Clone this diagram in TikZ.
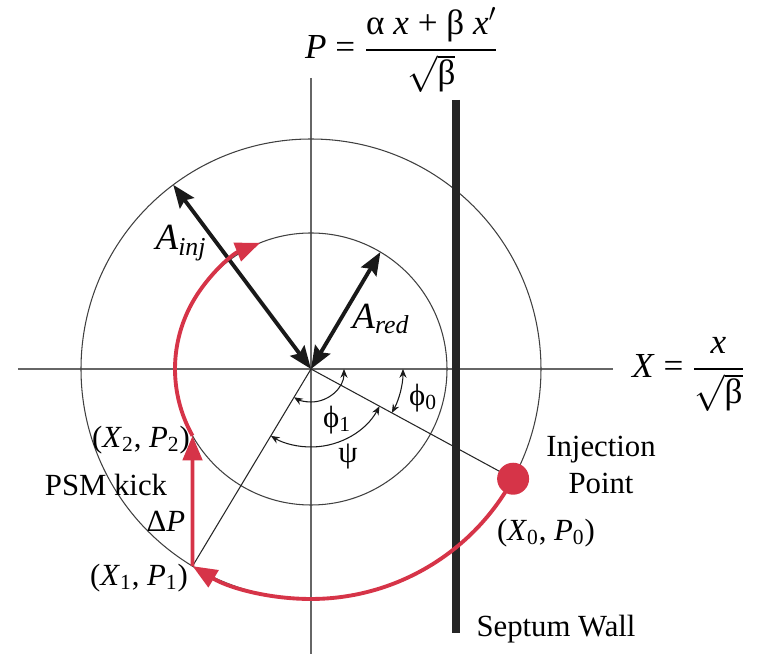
\documentclass[tikz,border=0pt]{standalone}
\usepackage{amsmath}
\usepackage{fontspec}
\setmainfont{Liberation Serif}
\usetikzlibrary{arrows.meta}

\definecolor{orbitred}{RGB}{214,52,72}
\newcommand{\phasept}[1]{(\textit{X}$_{\text{#1}}$, \textit{P}$_{\text{#1}}$)}

\begin{document}
\begin{tikzpicture}[
    every node/.style={font=\fontsize{17.5}{21}\selectfont},
    axisline/.style={draw=black!60, line width=0.7pt},
    ring/.style={draw=black!75, line width=0.6pt},
    radial/.style={draw=black!85, line width=0.6pt},
    orbit/.style={draw=orbitred, line width=2.2pt},
    orbittip/.style={-{Triangle[length=14pt,width=11pt]}},
    amp/.style={
        draw=black!90, line width=2.2pt,
        {Stealth[length=13pt,width=10pt,inset=2pt]}-{Stealth[length=13pt,width=10pt,inset=2pt]}
    },
    angarc/.style={
        draw=black!90, line width=0.6pt,
        {Stealth[length=5pt,width=4pt]}-{Stealth[length=5pt,width=4pt]}
    },
    amplabel/.style={font=\fontsize{21}{25}\selectfont},
    eqlabel/.style={font=\fontsize{20}{24}\selectfont}
]
\useasboundingbox (-6.22,-5.70) rectangle (8.98,7.38);

\def\Rout{4.6}
\def\Rin{2.72}

%% ── Reference points ───────────────────────────────────────────────
\coordinate (O) at (0,0);
\coordinate (inj) at (-28.5:\Rout);
\coordinate (X1) at (-121:\Rout);
\coordinate (X2) at (209.4:\Rin);
\coordinate (Ainj) at (126.8:\Rout);
\coordinate (Ared) at (59.3:\Rin);
\coordinate (xleft) at (-5.86,0);
\coordinate (xright) at (6.04,0);
\coordinate (ptop) at (0,5.82);
\coordinate (pbot) at (0,-5.70);
\coordinate (septop) at (2.90,5.38);
\coordinate (sepbot) at (2.90,-5.28);

%% ── Axes and circles ───────────────────────────────────────────────
\draw[axisline] (xleft) -- (xright);
\draw[axisline] (ptop) -- (pbot);
\draw[ring] (O) circle[radius=\Rout];
\draw[ring] (O) circle[radius=\Rin];

%% Radial lines to the two orbit points
\draw[radial] (O) -- (inj);
\draw[radial] (O) -- (X1);

%% ── Angles ─────────────────────────────────────────────────────────
\draw[angarc] (0:1.84) arc[start angle=0, end angle=-28.5, radius=1.84];
\draw[angarc] (0:0.66) arc[start angle=0, end angle=-121, radius=0.66];
\draw[angarc] (-28.5:1.56) arc[start angle=-28.5, end angle=-121, radius=1.56];

\node (phi0) at (2.24,-0.58) {ϕ$_{\text{0}}$};
\node (phi1) at (0.52,-1.02) {ϕ$_{\text{1}}$};
\node (psi) at (0.74,-1.76) {ψ};

%% ── Amplitudes ─────────────────────────────────────────────────────
\draw[amp] (O) -- (Ainj);
\draw[amp] (O) -- (Ared);
\node[amplabel] (ainjlabel) at (-2.60,2.52) {\textit{A}$_{\text{\itshape inj}}$};
\node[amplabel] (aredlabel) at (1.40,1.00) {\textit{A}$_{\text{\itshape red}}$};

%% ── Septum ─────────────────────────────────────────────────────────
\draw[black!85, line width=5pt] (septop) -- (sepbot);
\node (septum) at (4.90,-5.20) {Septum Wall};

%% ── Injected orbit ─────────────────────────────────────────────────
\draw[orbit, orbittip] (inj) arc[start angle=-28.5, end angle=-121, radius=\Rout];
\draw[orbit, orbittip] (X1) -- (X2);
\draw[orbit, orbittip] (X2) arc[start angle=209.4, end angle=112, radius=\Rin];
\node[circle, fill=orbitred, minimum size=0.64cm, inner sep=0pt] (injdot) at (inj) {};

%% Point labels
\node (x0label) at (4.70,-3.28) {\phasept{0}};
\node (x1label) at (-3.44,-4.18) {\phasept{1}};
\node (x2label) at (-3.40,-1.42) {\phasept{2}};
\node (kick) at (-4.10,-2.32) {PSM kick};
\node (dp) at (-2.90,-3.04) {Δ\textit{P}};
\node[align=center] (injlabel) at (5.80,-1.92) {Injection\\Point};

%% ── Coordinate definitions ─────────────────────────────────────────
\node[eqlabel, anchor=base west] (xeq) at (6.30,-0.18)
    {\textit{X} = $\displaystyle\frac{\text{\textit{x}}}{\sqrt{\text{β}}}$};
\node[eqlabel, anchor=base west] (peq) at (-0.24,6.20)
    {\textit{P} = $\displaystyle\frac{\text{α \textit{x} + β \textit{x}$'$}}{\sqrt{\text{β}}}$};

\end{tikzpicture}
\end{document}
